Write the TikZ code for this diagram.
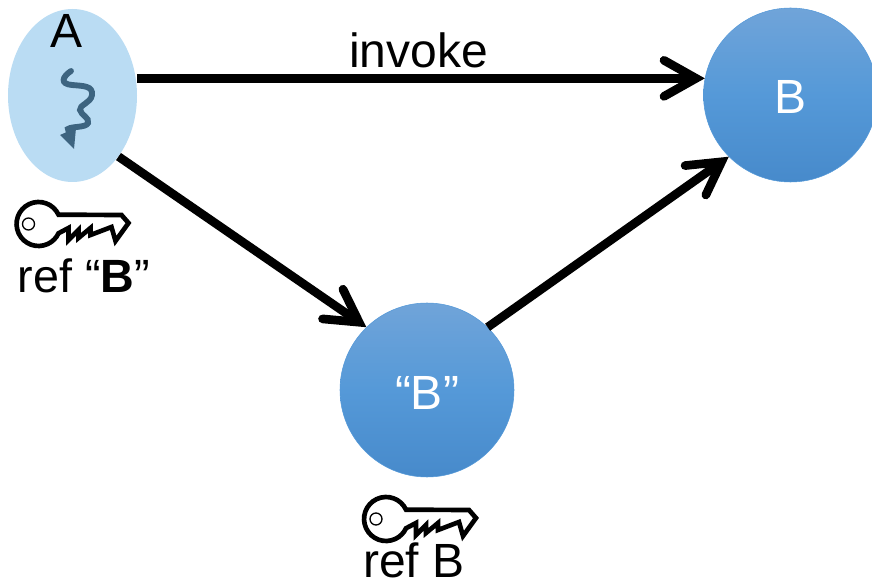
\documentclass[tikz,border=0pt]{standalone}
\usepackage{fontspec}
\setmainfont{Liberation Sans}
\usetikzlibrary{arrows.meta,shapes.geometric}
\definecolor{thrA}{HTML}{BADCF3}
\definecolor{blueT}{HTML}{70A4D9}
\definecolor{blueM}{HTML}{5599D8}
\definecolor{blueB}{HTML}{478ACB}
\definecolor{squig}{HTML}{3D6480}
\tikzset{
  lbl/.style={font=\fontsize{36}{40}\selectfont,anchor=base,inner sep=0pt,text=black},
  ball/.style={circle,minimum size=130.5pt,inner sep=0pt,draw=blueM,line width=.4pt,top color=blueT,bottom color=blueB,middle color=blueM},
  whitelbl/.style={lbl,text=white},
  conn/.style={line width=6.5pt,-{Straight Barb[length=24pt,width=27pt,line cap=round]},line cap=butt},
  keyshape/.pic={
    \draw[line width=3.5pt,line join=miter,fill=white]
      (20,-9.3) arc[start angle=-25,end angle=-335,radius=22]
      -- (30,4) -- (30,16) -- (40,6) -- (40,14) -- (52,4) -- (52,11) -- (73,3) -- (77,17) -- (90,-1) -- (83,-9) -- cycle;
    \draw[line width=1pt] (-10,0) circle[radius=6];
  }
}
\begin{document}
\begin{tikzpicture}[x=.75pt,y=-.75pt]
\useasboundingbox (0,0) rectangle (872,588);
\clip (0,0) rectangle (872,588);
\node[ellipse,fill=thrA,minimum width=96.75pt,minimum height=129.75pt,inner sep=0pt] (A) at (72.5,95.5) {};
\node[ball] (B) at (790.5,95) {};
\node[ball] (Bref) at (427,390) {};
\node[lbl] (Alabel) at (66.5,48) {A};
\node[lbl] (invoke) at (418.5,68) {invoke};
\node[whitelbl] (Blabel) at (790.5,114) {B};
\node[whitelbl] (Breflabel) at (427,409) {“B”};
\node[lbl,font=\fontsize{35}{40}\selectfont] (refq) at (84,293) {ref “\textbf{B}”};
\node[lbl] (refb) at (414,577) {ref B};
\draw[squig,line width=4.4pt,line cap=round] (71,71) .. controls (62,77) and (60,84) .. (72,85) .. controls (84,86) and (93,86) .. (92,95) .. controls (91,103) and (79,105) .. (80,110) .. controls (81,115) and (90,118) .. (88,123) .. controls (86,128) and (72,126) .. (68,129) -- (69,133);
\fill[squig] (74,149) -- (60,135) -- (76,128) -- cycle;
\draw[conn] (A.east |- B.169) -- (B.169);
\draw[conn] (A.-53) -- (Bref.134);
\draw[conn] (Bref.46) -- (B.225);
\path (38.5,224) pic {keyshape};
\path (386,519) pic {keyshape};
\end{tikzpicture}
\end{document}
